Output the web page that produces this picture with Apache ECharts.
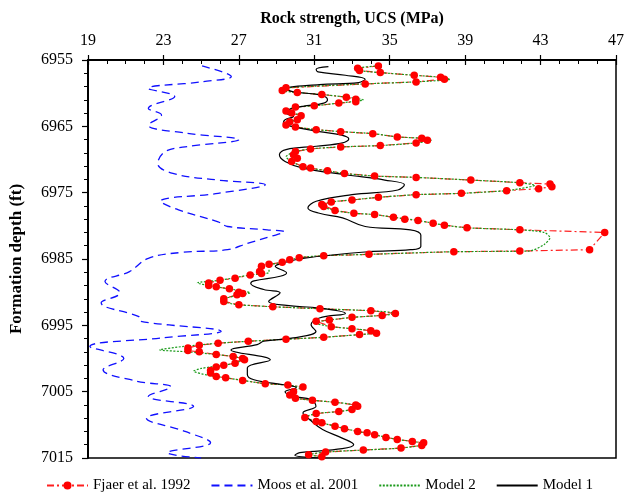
<!DOCTYPE html>
<html>
<head>
<meta charset="utf-8">
<script src="https://cdn.jsdelivr.net/npm/echarts@6/dist/echarts.min.js"></script>
<style>html,body{margin:0;padding:0;background:#fff}#c{width:627px;height:501px}</style>
</head>
<body>
<div id="c"></div>
<script>
// [UCS (MPa), depth (ft)]
var fjaer = [[34.4,6955.9],[33.3,6956.25],[33.4,6956.6],[34.5,6956.9],[36.3,6957.3],[37.7,6957.6],[37.9,6957.9],[36.4,6958.3],[33.7,6958.6],[29.5,6959.2],[29.3,6959.6],[30.1,6959.9],[31.4,6960.2],[32.7,6960.6],[33.2,6960.9],[33.2,6961.3],[32.3,6961.5],[31.0,6961.9],[30.0,6962.1],[29.5,6962.7],[29.8,6963.0],[30.3,6963.4],[30.1,6964.0],[29.7,6964.3],[29.5,6964.8],[30.0,6965.1],[31.1,6965.5],[32.4,6965.8],[34.1,6966.1],[35.4,6966.6],[36.7,6966.8],[37.0,6967.1],[36.4,6967.5],[34.5,6967.9],[32.4,6968.1],[30.8,6968.4],[30.0,6968.8],[29.9,6969.3],[30.1,6969.8],[29.8,6970.3],[30.4,6971.1],[30.8,6971.3],[31.7,6971.7],[32.6,6972.1],[34.2,6972.5],[36.4,6972.7],[39.3,6973.1],[41.9,6973.5],[43.5,6973.7],[43.6,6974.1],[42.9,6974.4],[41.2,6974.7],[38.8,6975.1],[36.4,6975.3],[34.4,6975.7],[33.0,6976.1],[31.9,6976.4],[31.4,6976.8],[31.5,6977.1],[32.1,6977.7],[33.1,6978.1],[34.2,6978.3],[35.2,6978.7],[35.8,6979.0],[36.5,6979.2],[37.3,6979.6],[37.9,6979.9],[39.1,6980.3],[41.9,6980.6],[46.4,6981.0],[45.6,6983.6],[41.9,6983.8],[38.4,6983.9],[33.9,6984.3],[31.5,6984.5],[30.2,6984.8],[29.7,6985.1],[29.3,6985.5],[28.6,6985.8],[28.2,6986.1],[28.1,6986.9],[28.2,6987.2],[27.6,6987.4],[26.8,6987.9],[26.0,6988.2],[25.4,6988.6],[25.4,6989.0],[25.8,6989.2],[26.5,6989.5],[27.0,6990.0],[27.2,6990.2],[26.9,6990.4],[26.2,6991.0],[26.2,6991.4],[27.0,6991.9],[28.8,6992.2],[31.3,6992.5],[34.0,6992.8],[35.3,6993.2],[34.6,6993.5],[33.0,6993.8],[31.8,6994.2],[31.1,6994.4],[31.9,6995.2],[33.0,6995.5],[34.0,6995.8],[34.3,6996.2],[33.4,6996.4],[31.5,6996.8],[29.5,6997.1],[27.5,6997.4],[25.9,6997.7],[24.9,6998.0],[24.3,6998.4],[24.3,6998.8],[24.9,6999.0],[25.8,6999.4],[26.7,6999.7],[27.2,7000.0],[27.3,7000.2],[26.8,7000.7],[26.2,7001.0],[25.8,7001.3],[25.5,7001.8],[25.5,7002.2],[25.8,7002.7],[26.3,7002.9],[27.2,7003.3],[28.4,7003.8],[29.6,7004.0],[30.4,7004.3],[29.9,7005.0],[29.7,7005.5],[30.0,7006.0],[30.9,7006.3],[32.1,7006.6],[33.2,7007.0],[33.3,7007.2],[33.0,7007.7],[32.3,7008.0],[31.1,7008.3],[30.5,7008.9],[31.1,7009.5],[31.4,7009.7],[32.1,7010.2],[32.6,7010.6],[33.3,7011.0],[33.8,7011.2],[34.2,7011.5],[34.8,7011.9],[35.4,7012.2],[36.2,7012.5],[36.8,7012.7],[36.7,7013.1],[35.6,7013.5],[33.6,7013.8],[31.6,7014.1],[30.7,7014.5],[31.4,7014.8]];

var moos = [[25.05,6955.9],[26.6,6957.5],[25.0,6958.3],[22.2,6959.3],[23.6,6960.5],[22.2,6962.3],[22.9,6963.3],[22.2,6964.8],[24.15,6966.0],[27.0,6967.0],[24.15,6968.1],[23.1,6968.8],[22.7,6970.6],[23.5,6972.1],[25.9,6973.1],[28.4,6973.8],[25.9,6975.1],[22.85,6976.3],[23.8,6977.6],[25.9,6979.4],[26.4,6980.1],[28.5,6980.6],[29.4,6980.9],[28.7,6981.6],[27.5,6982.6],[26.4,6983.6],[24.0,6984.0],[22.2,6984.9],[21.2,6986.9],[19.9,6988.4],[20.7,6990.1],[19.7,6991.6],[21.7,6993.7],[21.8,6994.4],[26.06,6995.9],[22.9,6996.9],[19.1,6998.2],[20.9,7000.0],[19.8,7001.7],[21.55,7003.4],[23.4,7004.3],[22.2,7005.7],[24.6,7007.2],[22.1,7009.0],[24.15,7011.0],[25.5,7012.7],[23.2,7014.2],[25.0,7015.0]];

var model2 = [[34.4,6955.9],[33.3,6956.25],[33.4,6956.6],[34.5,6956.9],[36.3,6957.3],[37.7,6957.6],[38.2,6957.9],[36.4,6958.3],[33.7,6958.6],[29.5,6959.2],[29.3,6959.6],[30.1,6959.9],[31.4,6960.2],[32.7,6960.6],[33.6,6961.0],[32.3,6961.5],[31.0,6961.9],[30.0,6962.1],[29.5,6962.7],[29.8,6963.0],[30.4,6963.4],[30.1,6964.0],[29.7,6964.3],[29.5,6964.8],[30.0,6965.1],[31.1,6965.5],[32.4,6965.8],[34.1,6966.1],[35.4,6966.6],[36.7,6966.8],[37.2,6967.1],[36.4,6967.5],[34.5,6967.9],[32.4,6968.1],[30.8,6968.4],[29.9,6968.9],[29.5,6969.6],[29.8,6970.3],[30.4,6971.1],[31.7,6971.7],[32.6,6972.1],[34.2,6972.5],[36.4,6972.7],[39.3,6973.1],[41.9,6973.5],[42.7,6973.9],[41.9,6974.4],[41.2,6974.7],[38.8,6975.1],[36.4,6975.3],[34.4,6975.7],[33.0,6976.1],[31.9,6976.4],[31.3,6976.9],[32.1,6977.7],[33.1,6978.1],[34.2,6978.3],[35.2,6978.7],[36.5,6979.2],[37.9,6979.9],[39.1,6980.3],[41.9,6980.6],[43.2,6981.0],[43.5,6981.8],[43.2,6982.8],[42.4,6983.8],[38.4,6983.9],[33.9,6984.3],[31.5,6984.5],[30.2,6984.8],[29.3,6985.5],[28.6,6986.0],[28.6,6987.0],[27.6,6987.4],[26.0,6988.2],[24.8,6988.6],[25.8,6989.2],[26.5,6989.5],[27.6,6990.1],[26.9,6990.5],[26.2,6991.1],[26.4,6991.6],[27.0,6991.9],[28.8,6992.2],[31.3,6992.5],[34.0,6992.8],[35.4,6993.2],[34.6,6993.5],[33.0,6993.8],[31.8,6994.2],[31.0,6994.6],[31.9,6995.2],[33.0,6995.5],[34.0,6995.8],[34.4,6996.1],[33.4,6996.4],[31.5,6996.8],[29.5,6997.1],[27.5,6997.4],[25.9,6997.7],[24.0,6998.2],[22.8,6998.7],[24.3,6999.0],[25.8,6999.4],[26.7,6999.7],[27.3,7000.1],[26.8,7000.7],[26.2,7001.0],[25.0,7001.5],[24.6,7001.9],[25.5,7002.6],[26.3,7002.9],[27.2,7003.3],[28.4,7003.8],[29.6,7004.0],[30.3,7004.4],[29.8,7005.0],[29.7,7005.6],[30.0,7006.0],[30.9,7006.3],[32.1,7006.6],[33.2,7007.0],[33.3,7007.3],[33.0,7007.7],[32.3,7008.0],[31.1,7008.3],[30.5,7008.9],[31.1,7009.5],[32.1,7010.2],[33.3,7011.0],[34.2,7011.5],[35.4,7012.2],[36.2,7012.5],[36.9,7012.9],[35.6,7013.5],[33.6,7013.8],[31.6,7014.1],[30.7,7014.5],[31.4,7014.8]];

var model1 = [[31.75,6956.0],[31.1,6956.4],[31.2,6956.8],[32.65,6957.3],[33.7,6957.9],[33.35,6958.4],[31.27,6958.7],[29.45,6959.3],[29.9,6959.8],[31.35,6960.3],[31.7,6961.0],[31.5,6961.5],[30.4,6962.0],[29.6,6962.5],[29.5,6963.0],[29.9,6963.5],[29.45,6964.0],[29.36,6964.5],[29.8,6965.0],[31.27,6965.8],[32.4,6966.3],[32.83,6966.9],[32.5,6967.5],[31.1,6968.0],[29.5,6968.5],[29.15,6969.3],[29.45,6970.3],[30.4,6971.3],[32.65,6972.3],[34.74,6973.1],[35.78,6973.8],[35.43,6974.6],[33.0,6975.3],[31.1,6976.3],[30.66,6977.3],[31.27,6978.1],[32.5,6978.8],[33.7,6980.1],[36.1,6980.6],[36.65,6981.4],[36.65,6983.1],[36.1,6983.6],[33.9,6983.9],[30.4,6984.9],[29.36,6985.6],[28.93,6986.1],[29.53,6987.1],[29.19,6987.6],[27.8,6988.3],[27.63,6988.7],[28.32,6989.6],[29.19,6990.1],[28.58,6991.4],[29.53,6992.0],[31.27,6992.4],[32.65,6993.2],[31.27,6993.9],[30.83,6994.9],[31.09,6995.9],[29.88,6996.9],[28.32,6997.4],[27.97,6997.9],[26.58,6998.7],[28.67,7000.2],[27.45,7001.4],[27.45,7002.4],[27.8,7003.2],[29.45,7004.0],[30.05,7004.4],[29.45,7005.0],[29.88,7005.7],[30.83,7006.2],[31.09,7007.2],[30.4,7008.2],[30.75,7009.2],[31.44,7010.7],[32.48,7012.0],[33.09,7013.0],[32.48,7013.6],[30.23,7014.2],[29.97,7014.6],[31.27,7015.0]];

var seriesNames = ['Fjaer et al. 1992', 'Moos et al. 2001', 'Model 2', 'Model 1'];
var xTitle = 'Rock strength, UCS (MPa)';
var yTitle = 'Formation depth (ft)';

var serif = 'Liberation Serif, Times New Roman, serif';
var chart = echarts.init(document.getElementById('c'), null, {renderer: 'canvas'});
var xBase = {type: 'value', position: 'top', min: 19, max: 47, interval: 4, splitLine: {show: false}};
var noSym = {opacity: 0};
chart.setOption({
  animation: false,
  grid: {left: 81, top: 60, right: 7, bottom: 43, show: true, borderColor: '#000', borderWidth: 1.5},
  xAxis: [
    Object.assign({}, xBase, {
      name: xTitle, nameLocation: 'middle', nameGap: 33,
      nameTextStyle: {fontFamily: serif, fontWeight: 'bold', fontSize: 16, color: '#000'},
      axisLine: {lineStyle: {color: '#000', width: 2}},
      axisTick: {inside: true, length: 5, lineStyle: {color: '#000', width: 1.2}},
      minorTick: {show: true, splitNumber: 4, length: 4, lineStyle: {color: '#000', width: 1}},
      axisLabel: {fontFamily: serif, fontSize: 16, color: '#000', margin: 11}
    }),
    Object.assign({}, xBase, {
      axisLine: {show: false},
      axisTick: {inside: false, length: 5, lineStyle: {color: '#000', width: 1.2}},
      axisLabel: {show: false}
    })
  ],
  yAxis: {
    type: 'value', inverse: true, min: 6955, max: 7015, interval: 10,
    name: yTitle, nameLocation: 'middle', nameGap: 63,
    nameTextStyle: {fontFamily: serif, fontWeight: 'bold', fontSize: 17, color: '#000'},
    axisLine: {show: true, lineStyle: {color: '#000', width: 2}},
    axisTick: {inside: false, length: 6, lineStyle: {color: '#000', width: 1.2}},
    minorTick: {show: true, splitNumber: 5, length: 4, lineStyle: {color: '#000', width: 1}},
    splitLine: {show: false},
    axisLabel: {fontFamily: serif, fontSize: 16, color: '#000', margin: 15, formatter: function (v) { return String(v); }}
  },
  legend: {
    bottom: 3, left: 41, itemWidth: 41, itemHeight: 10, itemGap: 20,
    textStyle: {fontFamily: serif, fontSize: 15, color: '#000'},
    data: [
      {name: seriesNames[0]},
      {name: seriesNames[1], itemStyle: noSym},
      {name: seriesNames[2], itemStyle: noSym},
      {name: seriesNames[3], itemStyle: noSym}
    ]
  },
  series: [
    {name: seriesNames[0], type: 'line', data: fjaer, symbol: 'circle', symbolSize: 7.5,
     itemStyle: {color: '#ff0000'}, lineStyle: {color: '#ff2020', width: 1.2, type: [7, 3, 2, 3]}},
    {name: seriesNames[1], type: 'line', data: moos, symbol: 'none', smooth: 0.4,
     itemStyle: {color: '#1010ff'}, lineStyle: {color: '#1010ff', width: 1.3, type: [8, 5]}},
    {name: seriesNames[2], type: 'line', data: model2, symbol: 'none', smooth: 0.25,
     itemStyle: {color: '#1a9a1a'}, lineStyle: {color: '#1a9a1a', width: 1.2, type: [2, 1.5]}},
    {name: seriesNames[3], type: 'line', data: model1, symbol: 'none', smooth: 0.4,
     itemStyle: {color: '#000'}, lineStyle: {color: '#000', width: 1.2}}
  ]
});
</script>
</body>
</html>
